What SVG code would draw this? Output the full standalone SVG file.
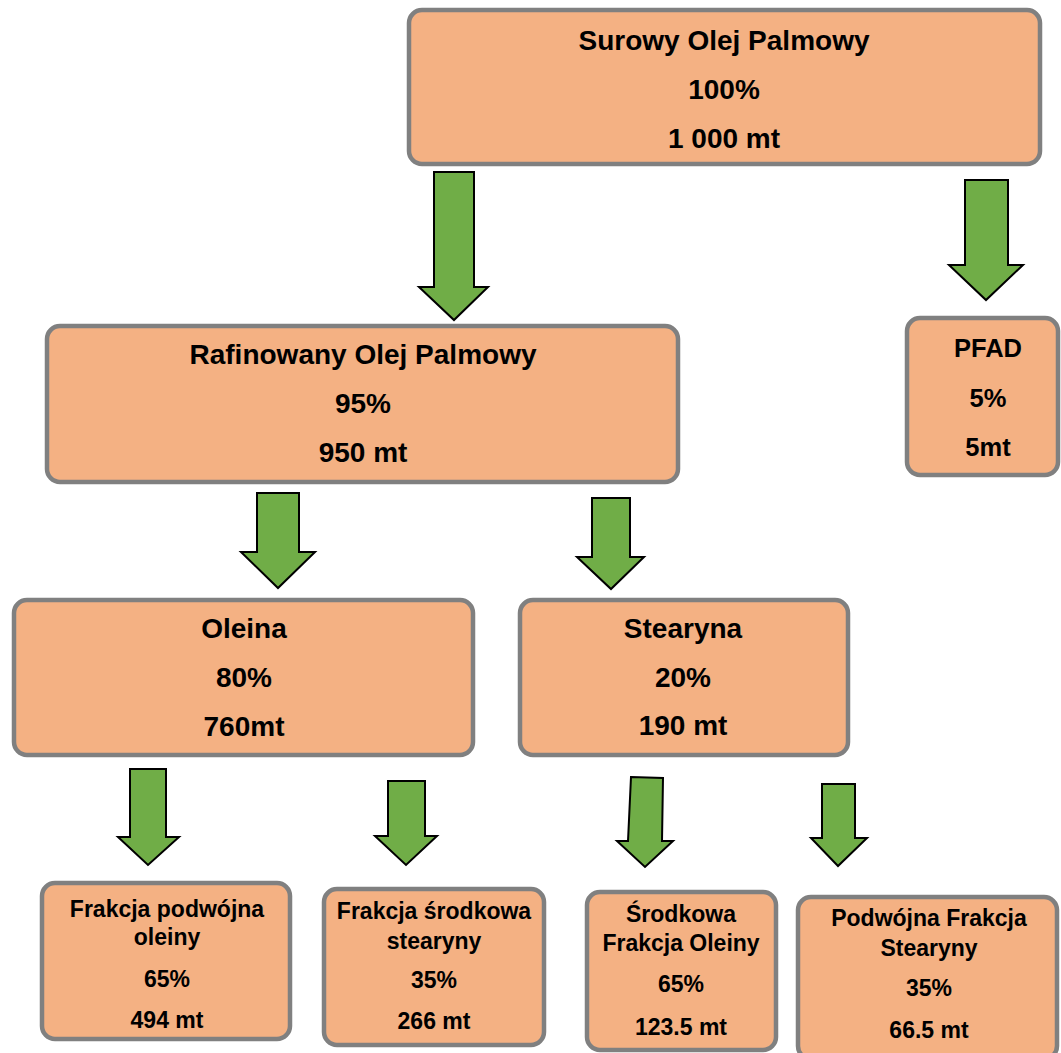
<svg xmlns="http://www.w3.org/2000/svg" width="1061" height="1053" viewBox="0 0 1061 1053">
<style>
.box{fill:#F4B183;stroke:#808080;stroke-width:4.5}
.arr{fill:#70AD47;stroke:#000;stroke-width:2;stroke-linejoin:miter}
text{font-family:"Liberation Sans",Arial,sans-serif;font-weight:bold;fill:#000;text-anchor:middle}
.lg{font-size:28px}
.md{font-size:25.5px}
.sm{font-size:23px}
</style>
<rect width="1061" height="1053" fill="#fff"/>
<g id="connectors">
<polygon class="arr" points="434,172 474,172 474,287 488,287 454,320 419,287 434,287"/>
<polygon class="arr" points="965,180 1008,180 1008,265 1023,265 986,300 949,265 965,265"/>
<polygon class="arr" points="257,493 299,493 299,552 315,552 278,588 241,552 257,552"/>
<polygon class="arr" points="592,498 630,498 630,557 644,557 611,589 577,557 592,557"/>
<polygon class="arr" points="130,769 166,769 166,837 179,837 148,865 118,837 130,837"/>
<polygon class="arr" points="388,781 425,781 425,836 437,836 406,865 375,836 388,836"/>
<polygon class="arr" points="631,777 663,778 662,841 673,841 645,867 617,841 628,841"/>
<polygon class="arr" points="822,784 855,784 855,838 867,838 838,866 811,838 822,838"/>
</g>
<g id="surowy">
<rect class="box" x="409" y="10" width="631" height="154" rx="13"/>
<text class="lg" x="724" y="50">Surowy Olej Palmowy</text>
<text class="lg" x="724" y="99">100%</text>
<text class="lg" x="724" y="148">1 000 mt</text>
</g>
<g id="rafinowany">
<rect class="box" x="47" y="326" width="631" height="156" rx="13"/>
<text class="lg" x="363" y="364">Rafinowany Olej Palmowy</text>
<text class="lg" x="363" y="413">95%</text>
<text class="lg" x="363" y="462">950 mt</text>
</g>
<g id="pfad">
<rect class="box" x="907" y="318" width="151" height="157" rx="13"/>
<text class="md" x="988" y="357">PFAD</text>
<text class="md" x="988" y="407">5%</text>
<text class="md" x="988" y="456">5mt</text>
</g>
<g id="oleina">
<rect class="box" x="14" y="600" width="459" height="155" rx="13"/>
<text class="lg" x="244" y="638">Oleina</text>
<text class="lg" x="244" y="687">80%</text>
<text class="lg" x="244" y="736">760mt</text>
</g>
<g id="stearyna">
<rect class="box" x="520" y="600" width="328" height="155" rx="13"/>
<text class="lg" x="683" y="638">Stearyna</text>
<text class="lg" x="683" y="687">20%</text>
<text class="lg" x="683" y="735">190 mt</text>
</g>
<g id="frakcja-podwojna-oleiny">
<rect class="box" x="42" y="883" width="248" height="156" rx="13"/>
<text class="sm" x="167" y="917">Frakcja podwójna</text>
<text class="sm" x="167" y="945">oleiny</text>
<text class="sm" x="167" y="987">65%</text>
<text class="sm" x="167" y="1028">494 mt</text>
</g>
<g id="frakcja-srodkowa-stearyny">
<rect class="box" x="324" y="889" width="220" height="156" rx="13"/>
<text class="sm" x="434" y="919">Frakcja środkowa</text>
<text class="sm" x="434" y="949">stearyny</text>
<text class="sm" x="434" y="988">35%</text>
<text class="sm" x="434" y="1029">266 mt</text>
</g>
<g id="srodkowa-frakcja-oleiny">
<rect class="box" x="587" y="892" width="189" height="158" rx="13"/>
<text class="sm" x="681" y="922">Środkowa</text>
<text class="sm" x="681" y="951">Frakcja Oleiny</text>
<text class="sm" x="681" y="992">65%</text>
<text class="sm" x="681" y="1035">123.5 mt</text>
</g>
<g id="podwojna-frakcja-stearyny">
<rect class="box" x="798" y="897" width="259" height="162" rx="13"/>
<text class="sm" x="929" y="926">Podwójna Frakcja</text>
<text class="sm" x="929" y="956">Stearyny</text>
<text class="sm" x="929" y="996">35%</text>
<text class="sm" x="929" y="1038">66.5 mt</text>
</g>
</svg>
